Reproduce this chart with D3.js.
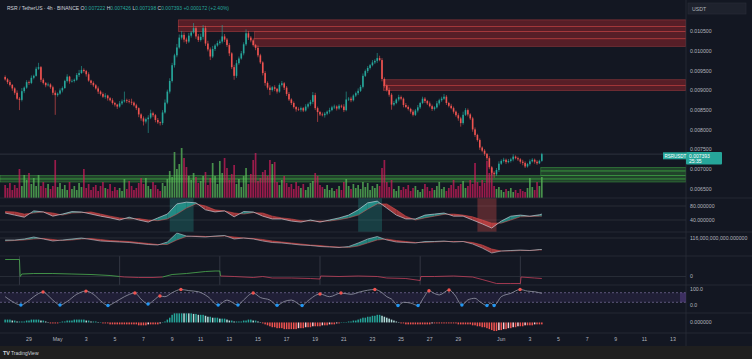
<!DOCTYPE html>
<html><head><meta charset="utf-8">
<script src="https://cdn.jsdelivr.net/npm/d3@7"></script>
<style>
html,body{margin:0;padding:0;background:#131722;}
svg{display:block;}
text{font-family:"Liberation Sans",Arial,sans-serif;}
</style></head><body>
<svg id="c" width="752" height="359"></svg>
<script>
// ---------------- DATA ----------------
// 4h candles starting 2024-04-27 08:00 UTC; prices in 1e-6 USDT
const firstOpen = 9350;
const closes = [
9290,9220,9150,9060,8950,8800,8770,8990,9080,9220,
9200,9330,9380,9560,9600,9280,9200,9140,9160,9090,
8950,8890,8930,9010,9070,9250,9360,9240,9250,9280,
9400,9450,9530,9500,9420,9260,9200,9140,9060,8980,
8920,8850,8880,8810,8760,8690,8650,8600,8680,8730,
8760,8740,8720,8700,8630,8560,8400,8300,8220,8280,
8320,8430,8380,8260,8200,8180,8450,8700,8980,9250,
9650,9900,10100,10350,10420,10300,10250,10400,10480,10590,
10380,10290,10370,10590,10200,10050,9870,10060,10150,10210,
10250,10380,10300,10160,9950,9600,9380,9700,9820,9950,
10180,10460,10350,10280,10160,10090,9900,9720,9450,9200,
9080,9020,9090,9050,8980,9150,9190,9080,8920,8780,
8690,8590,8530,8520,8560,8500,8600,8660,8720,8890,
8560,8460,8400,8380,8420,8470,8510,8580,8600,8550,
8620,8600,8510,8780,8800,8760,8880,8940,9000,9100,
9380,9500,9580,9650,9720,9760,9830,9780,9300,9130,
9020,8900,8650,8690,8780,8840,8800,8640,8590,8540,
8470,8390,8500,8580,8690,8800,8740,8680,8610,8540,
8580,8680,8760,8800,8850,8690,8620,8560,8470,8380,
8300,8180,8390,8510,8400,8300,8020,7880,7750,7560,
7480,7400,7290,7060,6920,6880,6990,7150,7220,7250,
7190,7220,7260,7330,7290,7260,7200,7170,7080,7140,
7210,7250,7200,7160,7222,7393];
// wick lengths above/below body, in 1e-5 USDT
const wickUp = [
4,3,5,2,3,6,4,8,3,5, 4,6,3,5,11,3,4,2,5,3, 4,6,3,5,4,3,6,2,4,3, 5,8,10,4,3,5,2,4,3,5,
3,4,6,2,3,5,3,2,6,5, 22,4,5,8,3,4,2,3,5,4, 6,9,4,3,5,2,6,8,5,7, 6,4,9,8,10,6,5,7,4,13,
5,6,8,8,6,7,5,8,4,6, 5,29,6,4,5,3,6,8,5,6, 5,10,6,4,5,3,6,4,3,5, 4,6,3,5,2,4,6,3,4,5,
3,4,2,5,4,3,6,4,5,8, 6,4,3,5,4,3,6,4,5,3, 4,3,6,20,4,5,3,4,6,5, 6,4,5,3,6,4,13,6,5,4,
3,6,4,5,3,6,4,3,5,4, 3,5,4,6,3,5,4,3,5,4, 3,6,4,5,7,4,3,5,4,3, 5,4,8,5,4,3,4,5,3,4,
3,4,2,5,3,4,5,6,4,5, 3,5,4,6,3,4,3,5,4,3, 5,4,3,4,3,3.3];
const wickDn = [
3,5,4,6,5,3,26,4,5,3, 5,3,4,2,3,6,4,5,3,4, 6,50,4,3,5,2,4,6,3,4, 3,5,2,4,6,3,5,4,3,6,
4,3,5,6,3,4,5,6,3,4, 3,5,4,6,3,5,7,6,10,5, 35,4,5,6,4,6,5,3,4,5, 4,6,5,3,5,7,6,4,5,3,
6,5,4,7,6,5,9,4,5,3, 4,5,6,5,7,5,10,5,4,3, 5,4,6,5,4,6,5,4,6,7, 5,13,4,6,5,3,4,6,5,4,
5,4,6,3,5,4,3,5,4,6, 5,25,4,3,6,4,5,3,4,5, 3,4,5,3,4,5,3,4,5,3, 4,3,5,4,3,4,5,3,6,5,
4,5,13,4,3,5,4,6,3,4, 5,4,3,5,4,3,5,4,3,5, 4,3,5,4,3,5,4,3,5,4, 6,9,4,3,5,4,6,5,4,6,
4,5,6,5,7,9,4,5,3,4, 5,3,4,5,3,4,5,6,4,3, 4,3,5,4,2,2.4];
// volume (millions RSR)
const volumes = [
13,10,15,8,13,10,29,12,23,18, 25,14,20,12,23,12,16,10,14,9, 12,38,11,15,9,13,8,16,9,12,
8,15,11,29,10,14,8,11,13,7, 12,16,10,9,14,7,11,8,10,7, 19,9,17,12,8,10,15,20,14,20,
12,9,16,13,9,7,15,12,19,27, 21,46,29,34,50,40,31,22,18,25, 21,15,17,22,26,13,20,35,22,14,
37,25,40,30,18,24,33,14,19,11, 22,30,14,24,38,45,17,20,26,28, 22,38,34,36,16,13,18,22,15,11,
14,9,16,12,10,14,8,11,15,17, 25,22,13,11,9,13,8,10,7,9, 12,8,16,19,12,9,14,10,13,9,
16,11,15,8,12,10,14,12,30,38, 16,11,18,9,7,12,8,11,9,13, 7,10,12,8,6,9,14,11,7,10,
8,12,16,9,11,7,10,13,18,9, 12,14,17,10,12,18,14,35,16,12, 18,15,37,25,30,12,9,11,8,6,
9,7,10,6,8,5,9,7,6,10, 20,11,8,16,12,21];
// MACD-style histogram (1e-5)
const macdHist = [
3,3,3,2,2,1,1,1, 1,2,2,3,3,3,3,2,2, 1,0,-1,-1,-1,-1, 0,1,1,2,2,2,3,3,3,3,3,
2,2,1,1,1,0,0,-1,-1,-1,-2,-2,
-2,-2,-2,-2,-2,-2,-2,-2,-2,-2,-3,-3,-3,-3,-2,-2,-2,-2,-2,-1,0,
1,3,5,8,10,11,12,12,11,11,10,10,9,9,
8,8,8,7,6,6,5,5,5,4,4,4,3,2,2,1,1,1,
1,2,2,3,3,2,2,1,
0,-1,-2,-3,-4,-5,-5,-6,-6,-6,-7,-7,-7,-7,
-7,-7,-6,-6,-6,-5,-5,-5,-4,-4,-4,-4,-3,-3,-3,-2,-2,-2,-1,-1,
0,0,0,1,1,2,2,3,
4,5,5,6,6,7,7,8,8,7,6,5,
4,3,2,1,0,-1,-1,-2,-2,-2,
-2,-2,-2,-2,-2,-2,-2,-2,-1,-1,-1,-1,-1,-1,-1,-1,-1,-1,-1,-2,-2,-2,-2,-2,-2,
-3,-3,-4,-4,-5,-5,-6,-7,-8,-9,
-9,-8,-8,-7,-7,-6,-6,-5,-5,-4,-4,-4,-3,-3,-3,-3,-2,-2,-2,-2];
// oscillator samples (candle index)
const oscIdx = [0,4,8,12,16,20,24,28,32,36,40,44,48,52,56,60,64,68,72,76,80,84,88,92,96,100,104,108,112,116,120,124,128,132,136,140,144,148,152,156,160,164,168,172,176,180,184,188,192,196,200,204,208,212,216,220,224,225];
const waveFast = [60,54,48,66,63,51,57,64,63,57,51,46,40,48,40,34,46,57,86,91,89,69,63,66,49,64,63,51,43,43,37,34,40,34,40,46,54,69,89,94,74,54,43,43,54,57,60,51,51,40,29,17,37,51,54,51,55,57];
const waveSlow = [64,63,57,60,63,60,54,60,61,63,57,51,46,43,44,40,38,43,57,74,86,80,69,66,60,57,61,60,51,46,43,38,37,37,37,41,46,54,71,86,86,69,51,40,46,51,56,57,54,49,40,31,31,40,49,50,51,51];
const flowFast = [112,112,114,118,114,110,112,114,116,113,110,109,108,107,105,103,102,108,126,120,119,118,120,121,114,116,114,110,107,106,104,102,101,99,98,97,99,106,114,119,112,108,107,106,109,109,110,108,109,104,96,86,90,91,92,91,93,93];
const flowSlow = [110,111,112,114,115,113,111,112,114,115,113,111,110,109,107,105,103,103,112,119,120,119,119,120,118,116,115,113,110,108,106,104,102,101,99,98,97,100,106,112,114,111,109,107,107,108,109,109,109,107,102,94,90,90,91,91,92,92];
// highlighted signal windows [fromIdx, toIdx]
const bullWindows = [[69,79],[148,158]];
const bearWindows = [[198,206]];
// weekly trend line [candle index, value]
const trendIdx = [0,6,6.3,7,12,20,28,36,44,48,50,56,62,66,70,76,80,84,88,90,90.3,96,104,108,112,120,128,132,132.3,140,148,156,160,168,174,174.3,180,188,196,200,206,212,216,216.3,222,225];
const trendVal = [34,34,0,5,6,6,5,4,2,0,-1,-2,-2,-1,4,6,8,10,11,11,1,0,-2,0,-3,-3,-4,-5,1,0,1,0,-3,-4,-8,0,0,1,-1,-6,-14,-14,-14,-1,-3,-4];
const weekStartIdx = [6,48,90,132,174,216];
// stochastic-type oscillator [candle index, value]
const stochIdx = [0,3,6.6,9,12,15.9,18.5,21,23,26,30,33.9,37,40,43.1,46,50,54.4,57,59.9,62.5,64.9,67,70,73.7,77,81,85,89.3,93,97.6,100,104,107,111,114,117,120,124.5,127,132,136,140.8,145,149,155,158,160,162,164.7,167,170,173.1,175.5,177.7,180,182,186.1,188.5,191.5,194,197,199,202,203.5,205,208,212,215.9,219,222,225];
const stochVal = [55,25,3,20,55,84,55,20,3,25,70,90,70,30,0,20,55,78,40,9,35,59,55,80,100,93,86,55,3,34,3,35,78,50,34,2,25,34,0,30,72,55,78,70,86,100,80,55,40,0,20,15,0,50,92,75,66,97,66,3,35,45,24,0,15,0,55,76,100,90,86,76];
const peakIdx = [15.9,33.9,54.4,64.9,73.7,104,132,140.8,155,177.7,186.1,215.9];
const troughIdx = [6.6,23,43.1,59.9,89.3,97.6,114,124.5,164.7,173.1,191.5,202,205];
// zones [startIdx, top, bottom] in 1e-6
const supplyZones = [[73,10800,10630],[73,10630,10500],[105,10500,10320],[105,10320,10130],[159,9280,9140],[159,9140,9010]];
const demandZones = [[0,6850,6762],[0,6762,6685],[225,7058,6965],[225,6965,6850]];
const priceTicks = [6500,7000,7500,8000,8500,9000,9500,10000,10500];
const dayTicks = ["2024-04-29","2024-05-01","2024-05-03","2024-05-05","2024-05-07","2024-05-09","2024-05-11","2024-05-13","2024-05-15","2024-05-17","2024-05-19","2024-05-21","2024-05-23","2024-05-25","2024-05-27","2024-05-29","2024-06-01","2024-06-03","2024-06-05","2024-06-07","2024-06-09","2024-06-11","2024-06-13"];
const monthNames = ["Jan","Feb","Mar","Apr","May","Jun","Jul"];

// ---------------- DRAW ----------------
const svg = d3.select('#c');
const W = 752, H = 359, PR = 686;
const BG = '#131722', GRID = '#2a2e39', TXT = '#b2b5be';
const UP = '#26a69a', DN = '#ef5350';
svg.append('rect').attr('width', W).attr('height', H).attr('fill', BG);

const start = Date.UTC(2024, 3, 27, 8);
const x = d3.scaleUtc().domain([new Date(Date.UTC(2024,3,29)), new Date(Date.UTC(2024,5,13))]).range([29, 673]);
const xi = i => x(new Date(start + i * 4 * 3600e3));
const y = d3.scaleLinear().domain([6500, 10500]).range([189.3, 31.7]);
const yVol = d3.scaleLinear().domain([0, 52]).range([198, 146]);
const yA = d3.scaleLinear().domain([0, 100]).range([234, 199]);
const yB = d3.scaleLinear().domain([116, 86]).range([238, 253]);
const yC = d3.scaleLinear().domain([0, 34]).range([276.5, 259.5]);
const yD = d3.scaleLinear().domain([0, 100]).range([305.5, 289.5]);
const yE = d3.scaleLinear().domain([-10, 12]).range([332, 311]);

const defs = svg.append('defs');
function clip(id, y0, y1) {
  defs.append('clipPath').attr('id', id).append('rect').attr('x', 0).attr('y', y0).attr('width', PR).attr('height', y1 - y0);
  return svg.append('g').attr('clip-path', `url(#${id})`);
}
const gMain = clip('cm', 0, 198);
const gA = clip('ca', 198, 232);
const gB = clip('cb', 232, 256);
const gC = clip('cc', 256, 285);
const gD = clip('cd', 285, 313);
const gE = clip('ce', 313, 333);

// zones
supplyZones.forEach(z => {
  gMain.append('rect').attr('x', xi(z[0]) - 1).attr('y', y(z[1])).attr('width', PR - xi(z[0]) + 1).attr('height', y(z[2]) - y(z[1]))
    .attr('fill', 'rgba(178,40,48,0.42)').attr('stroke', 'rgba(239,83,80,0.55)').attr('stroke-width', 0.6);
});
demandZones.forEach(z => {
  const x0 = z[0] === 0 ? 0 : xi(z[0]) - 1;
  gMain.append('rect').attr('x', x0).attr('y', y(z[1])).attr('width', PR - x0).attr('height', y(z[2]) - y(z[1]))
    .attr('fill', 'rgba(60,150,60,0.35)').attr('stroke', 'rgba(76,200,80,0.6)').attr('stroke-width', 0.6);
});

// candles
const candles = closes.map((c, i) => {
  const o = i ? closes[i - 1] : firstOpen;
  return { i, o, c, hi: Math.max(o, c) + wickUp[i] * 10, lo: Math.min(o, c) - wickDn[i] * 10, up: c >= o };
});
// volume
gMain.selectAll('.vol').data(candles).join('rect')
  .attr('x', d => xi(d.i) - 0.85).attr('width', 1.7)
  .attr('y', d => yVol(volumes[d.i])).attr('height', d => yVol(0) - yVol(volumes[d.i]))
  .attr('fill', d => d.up ? 'rgba(90,185,90,0.75)' : 'rgba(200,30,90,0.75)');
// current price line
const lastC = closes[closes.length - 1];
gMain.append('line').attr('x1', 0).attr('x2', PR).attr('y1', y(lastC)).attr('y2', y(lastC))
  .attr('stroke', 'rgba(120,123,134,0.45)').attr('stroke-width', 0.6);
gMain.selectAll('.wick').data(candles).join('line')
  .attr('x1', d => xi(d.i)).attr('x2', d => xi(d.i)).attr('y1', d => y(d.hi)).attr('y2', d => y(d.lo))
  .attr('stroke', d => d.up ? UP : DN).attr('stroke-width', 0.6);
gMain.selectAll('.body').data(candles).join('rect')
  .attr('x', d => xi(d.i) - 0.8).attr('width', 1.6)
  .attr('y', d => y(Math.max(d.o, d.c))).attr('height', d => Math.max(0.6, Math.abs(y(d.o) - y(d.c))))
  .attr('fill', d => d.up ? UP : DN);

// oscillator with two-colour fill
function osc(g, fast, slow, ys, lineCol) {
  const pts = oscIdx.map((i, k) => ({ x: xi(i), f: ys(fast[k]), s: ys(slow[k]), d: fast[k] - slow[k] }));
  for (let k = 0; k < pts.length - 1; k++) {
    const a = pts[k], b = pts[k + 1];
    const poly = (p, q, col) => g.append('path').attr('d', `M${p.x},${p.f}L${q.x},${q.f}L${q.x},${q.s}L${p.x},${p.s}Z`).attr('fill', col);
    const colOf = d => d >= 0 ? 'rgba(38,166,154,0.75)' : 'rgba(220,70,70,0.7)';
    if (a.d * b.d >= 0) poly(a, b, colOf(a.d + b.d));
    else {
      const t = a.d / (a.d - b.d);
      const m = { x: a.x + (b.x - a.x) * t, f: a.f + (b.f - a.f) * t, s: a.f + (b.f - a.f) * t };
      poly(a, m, colOf(a.d)); poly(m, b, colOf(b.d));
    }
  }
  const ln = d3.line().x(p => p.x);
  g.append('path').attr('d', ln.y(p => p.s)(pts)).attr('fill', 'none').attr('stroke', 'rgba(239,83,80,0.8)').attr('stroke-width', 0.6);
  g.append('path').attr('d', ln.y(p => p.f)(pts)).attr('fill', 'none').attr('stroke', lineCol).attr('stroke-width', 0.7);
}
// pane A
[80, 40].forEach(v => gA.append('line').attr('x1', 0).attr('x2', PR).attr('y1', yA(v)).attr('y2', yA(v)).attr('stroke', '#363a45').attr('stroke-width', 0.6));
bullWindows.forEach(w => gA.append('rect').attr('x', xi(w[0])).attr('width', xi(w[1]) - xi(w[0])).attr('y', 198).attr('height', 34).attr('fill', 'rgba(38,166,154,0.28)'));
bearWindows.forEach(w => gA.append('rect').attr('x', xi(w[0])).attr('width', xi(w[1]) - xi(w[0])).attr('y', 198).attr('height', 34).attr('fill', 'rgba(239,83,80,0.3)'));
osc(gA, waveFast, waveSlow, yA, 'rgba(220,225,235,0.85)');
// pane B
gB.append('line').attr('x1', 0).attr('x2', PR).attr('y1', yB(116)).attr('y2', yB(116)).attr('stroke', '#363a45').attr('stroke-width', 0.6);
osc(gB, flowFast, flowSlow, yB, 'rgba(200,205,215,0.8)');
// pane C
gC.append('line').attr('x1', 0).attr('x2', PR).attr('y1', yC(0)).attr('y2', yC(0)).attr('stroke', '#363a45').attr('stroke-width', 0.6);
weekStartIdx.forEach(i => gC.append('line').attr('x1', xi(i)).attr('x2', xi(i)).attr('y1', 256).attr('y2', 285).attr('stroke', '#3b3f4b').attr('stroke-width', 0.8));
for (let k = 0; k < trendIdx.length - 1; k++) {
  const m = (trendVal[k] + trendVal[k + 1]) / 2;
  gC.append('line').attr('x1', xi(trendIdx[k])).attr('x2', xi(trendIdx[k + 1])).attr('y1', yC(trendVal[k])).attr('y2', yC(trendVal[k + 1]))
    .attr('stroke', m > 0.5 ? '#4caf50' : '#c2405a').attr('stroke-width', 0.8);
}
// pane D
gD.append('rect').attr('x', 0).attr('width', PR).attr('y', yD(80)).attr('height', yD(20) - yD(80)).attr('fill', 'rgba(126,87,194,0.13)');
[80, 20].forEach(v => gD.append('line').attr('x1', 0).attr('x2', PR).attr('y1', yD(v)).attr('y2', yD(v)).attr('stroke', '#8c7fb0').attr('stroke-width', 0.6).attr('stroke-dasharray', '2,2'));
const stochPts = stochIdx.map((i, k) => [xi(i), yD(stochVal[k])]);
gD.append('path').attr('d', d3.line().curve(d3.curveMonotoneX)(stochPts)).attr('fill', 'none').attr('stroke', '#9598a6').attr('stroke-width', 0.8);
const valAt = i => stochVal[stochIdx.indexOf(i)];
peakIdx.forEach(i => gD.append('circle').attr('cx', xi(i)).attr('cy', yD(valAt(i))).attr('r', 1.7).attr('fill', '#ef5350'));
troughIdx.forEach(i => gD.append('circle').attr('cx', xi(i)).attr('cy', yD(valAt(i))).attr('r', 1.7).attr('fill', '#2196f3'));
// pane E
gE.selectAll('.h').data(macdHist).join('rect')
  .attr('x', (v, i) => xi(i) - 0.75).attr('width', 1.5)
  .attr('y', v => Math.min(yE(v), yE(0))).attr('height', v => Math.max(0.4, Math.abs(yE(v) - yE(0))))
  .attr('fill', (v, i) => {
    const p = i ? macdHist[i - 1] : v;
    if (v >= 0) return v >= p ? '#26a69a' : '#b2dfdb';
    return v <= p ? '#ef5350' : '#ffcdd2';
  });

// separators and axes
[198, 232, 256, 285, 313, 333].forEach(v => svg.append('line').attr('x1', 0).attr('x2', W).attr('y1', v).attr('y2', v).attr('stroke', GRID).attr('stroke-width', 0.8));
svg.append('line').attr('x1', PR).attr('x2', PR).attr('y1', 0).attr('y2', 346).attr('stroke', GRID).attr('stroke-width', 0.8);

const fs = 5.2;
priceTicks.forEach(v => svg.append('text').attr('x', 690).attr('y', y(v) + 1.5).attr('font-size', fs).attr('fill', TXT).text((v / 1e6).toFixed(6)));
const paneLabels = [[yA(80), '80.000000'], [yA(40), '40.000000'], [yB(116), '116,000,000,000.000000'], [yC(0), '0'], [yD(100), '100.0'], [yD(0), '0.0'], [yE(0), '0.000000']];
paneLabels.forEach(p => svg.append('text').attr('x', 690).attr('y', p[0] + 1.8).attr('font-size', fs).attr('fill', TXT).text(p[1]));
// purple tick in axis for pane D
svg.append('rect').attr('x', 680).attr('y', yD(80)).attr('width', 6).attr('height', yD(20) - yD(80)).attr('fill', 'rgba(126,87,194,0.3)');

// USDT box
svg.append('rect').attr('x', 688).attr('y', 3).attr('width', 58).attr('height', 11).attr('fill', '#1e222d').attr('stroke', '#2a2e39').attr('stroke-width', 0.6);
svg.append('text').attr('x', 692).attr('y', 10.5).attr('font-size', fs).attr('fill', TXT).text('USDT');

// last price labels
const yl = y(lastC);
svg.append('rect').attr('x', 686).attr('y', yl - 2.2).attr('width', 36).attr('height', 12.6).attr('fill', UP).attr('rx', 1);
svg.append('text').attr('x', 689).attr('y', yl + 3.6).attr('font-size', 5).attr('fill', '#fff').text((lastC / 1e6).toFixed(6));
svg.append('text').attr('x', 689).attr('y', yl + 9.1).attr('font-size', 5).attr('fill', '#fff').text('25:35');
svg.append('rect').attr('x', 663).attr('y', yl - 1.8).attr('width', 23).attr('height', 7).attr('fill', UP);
svg.append('text').attr('x', 664.5).attr('y', yl + 3.4).attr('font-size', 4.5).attr('fill', '#fff').text('RSRUSDT');

// time axis
dayTicks.forEach(s => {
  const d = new Date(s + 'T00:00:00Z');
  const lbl = d.getUTCDate() === 1 ? monthNames[d.getUTCMonth()] : String(d.getUTCDate());
  svg.append('text').attr('x', x(d)).attr('y', 341).attr('text-anchor', 'middle').attr('font-size', fs).attr('fill', TXT).text(lbl);
});

// footer
svg.append('rect').attr('x', 0).attr('y', 346).attr('width', W).attr('height', 13).attr('fill', '#1f1f1f');
svg.append('text').attr('x', 3).attr('y', 355).attr('font-size', 5.5).attr('font-weight', 'bold').attr('fill', '#d1d4dc').text('TV');
svg.append('text').attr('x', 11).attr('y', 355).attr('font-size', 5).attr('fill', '#d1d4dc').text('TradingView');

// header
const hdr = svg.append('text').attr('x', 7).attr('y', 9.5).attr('font-size', 5).attr('fill', '#d1d4dc');
hdr.append('tspan').text('RSR / TetherUS · 4h · BINANCE  ');
[['O', '0.007222'], ['H', '0.007426'], ['L', '0.007198'], ['C', '0.007393']].forEach(p => {
  hdr.append('tspan').text(' ' + p[0]);
  hdr.append('tspan').attr('fill', UP).text(p[1]);
});
hdr.append('tspan').attr('fill', UP).text(' +0.000172 (+2.40%)');
</script>
</body></html>
